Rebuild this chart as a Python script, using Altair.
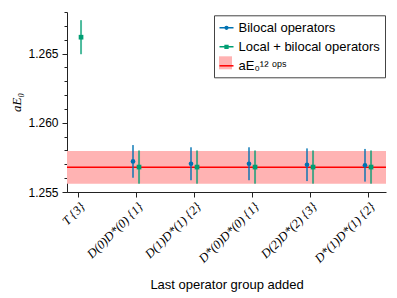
import json
import altair as alt
import pandas as pd

# ---------------- data ----------------
categories = ["T {3}", "D(0)D*(0) {1}", "D(1)D*(1) {2}",
              "D*(0)D*(0) {1}", "D(2)D*(2) {3}", "D*(1)D*(1) {2}"]
series_names = ["Bilocal operators", "Local + bilocal operators", "aE₀¹² ᵒᵖˢ"]

bilocal_idx = [1, 2, 3, 4, 5]
bilocal_val = [1.25721, 1.25704, 1.25704, 1.25697, 1.25693]
bilocal_err = [0.00118, 0.00119, 0.00119, 0.00118, 0.00118]

local_idx = [0, 1, 2, 3, 4, 5]
local_val = [1.26618, 1.25680, 1.25680, 1.25680, 1.25680, 1.25680]
local_err = [0.00123, 0.00120, 0.00120, 0.00120, 0.00120, 0.00120]

band_mid = [1.25678]
band_err = [0.00118]

y_major = [1.255, 1.260, 1.265]
y_minor = [round(1.255 + 0.001 * k, 3) for k in range(14)]

BLUE = "#0072B2"
GREEN = "#009E73"
RED = "#ff0000"
PINK = "#ffb3b3"

rows = []
for i, v, e in zip(bilocal_idx, bilocal_val, bilocal_err):
    rows.append({"series": series_names[0], "idx": i, "val": v, "err": e})
for i, v, e in zip(local_idx, local_val, local_err):
    rows.append({"series": series_names[1], "idx": i, "val": v, "err": e})
df = pd.DataFrame(rows)
band_df = pd.DataFrame({"mid": band_mid, "err": band_err, "band": ["band"]})

x_scale = alt.Scale(domain=[-0.19, 5.31], nice=False, zero=False)
y_scale = alt.Scale(domain=[1.255, 1.268], nice=False, zero=False)
# data-mark colours (two series only, so it stays apart from the legend scales)
color_scale = alt.Scale(domain=series_names[:2], range=[BLUE, GREEN])

x_axis = alt.Axis(
    values=list(range(len(categories))),
    labelExpr=f"{json.dumps(categories)}[round(datum.value)]",
    labelAngle=315, labelAlign="right", labelBaseline="top",
    labelFont="Liberation Serif", labelFontStyle="italic", labelFontSize=12.5,
    labelColor="#000", labelPadding=3, labelOverlap=False,
    tickSize=5, tickColor="#222", domainColor="#222", grid=False,
    title="Last operator group added", titleFont="Liberation Sans",
    titleFontSize=13, titleFontWeight="normal", titleColor="#000",
    titlePadding=14,
)
y_axis_major = alt.Axis(
    values=y_major, format=".3f", orient="left",
    labelFont="Liberation Sans", labelColor="#000", labelFontSize=12,
    labelPadding=4, labelOverlap=False,
    tickSize=5, tickColor="#222", domainColor="#222", grid=False,
    title="aE₀", titleFont="Liberation Serif", titleFontStyle="italic",
    titleFontSize=13, titleFontWeight="normal", titleColor="#000",
    titlePadding=4,
)
y_axis_minor = alt.Axis(
    values=y_minor, orient="left", labels=False, domain=False, title=None,
    tickSize=3, tickColor="#222", grid=False,
)

# legend symbol paths (line + marker, line)
dot = ("M-1,0H1M-0.2,0A0.2,0.2,0,1,1,0.2,0A0.2,0.2,0,1,1,-0.2,0Z"
       "M-0.08,0A0.08,0.08,0,1,1,0.08,0A0.08,0.08,0,1,1,-0.08,0Z")
sq = "M-1,0H1M-0.2,-0.2H0.2V0.2H-0.2ZM-0.07,-0.07H0.07V0.07H-0.07Z"
ln = "M-1,0H1"

LEG_X, LEG_Y = 147, 3.3

legend_main = alt.Legend(
    title=None, orient="none", legendX=LEG_X, legendY=LEG_Y, zindex=1,
    fillColor="white", strokeColor="#444",
    padding=4.5, rowPadding=4, symbolSize=196, labelOffset=4,
    labelFont="Liberation Sans", labelFontSize=13, labelColor="#000",
    symbolStrokeWidth=1.5, symbolOpacity=1, symbolFillColor="transparent",
)
legend_band = alt.Legend(
    title=None, orient="none", legendX=LEG_X + 5, legendY=LEG_Y + 41, zindex=2,
    padding=0, symbolType="square", symbolSize=169, symbolOpacity=0.3,
    symbolStrokeWidth=0, symbolStrokeColor="transparent",
    labelExpr="''", labelFontSize=1, labelOffset=0,
)

band = alt.Chart(band_df).transform_calculate(
    lo="datum.mid - datum.err", hi="datum.mid + datum.err"
).mark_rect(color=PINK).encode(
    y=alt.Y("lo:Q", scale=y_scale, axis=y_axis_major),
    y2="hi:Q",
    x=alt.value(0), x2=alt.value("width"),
)
line = alt.Chart(band_df).mark_rule(color=RED, strokeWidth=1.5).encode(
    y=alt.Y("mid:Q", scale=y_scale, axis=y_axis_minor),
)

base = alt.Chart(df).transform_calculate(
    xpos=f"datum.idx + (datum.series === {json.dumps(series_names[0])} ? -0.052 : 0.052)",
    lo="datum.val - datum.err", hi="datum.val + datum.err",
)
bars = base.mark_rule(strokeWidth=2, opacity=0.7).encode(
    x=alt.X("xpos:Q", scale=x_scale, axis=x_axis),
    y=alt.Y("lo:Q", scale=y_scale, axis=None),
    y2="hi:Q",
    color=alt.Color("series:N", scale=color_scale, legend=None),
)
pts_bi = base.transform_filter(
    f"datum.series === {json.dumps(series_names[0])}"
).mark_point(filled=True, size=22, opacity=1, shape="circle").encode(
    x=alt.X("xpos:Q", scale=x_scale),
    y=alt.Y("val:Q", scale=y_scale, axis=None),
    color=alt.Color("series:N", scale=color_scale, legend=None),
)
pts_lo = base.transform_filter(
    f"datum.series === {json.dumps(series_names[1])}"
).mark_point(filled=True, size=22, opacity=1, shape="square").encode(
    x=alt.X("xpos:Q", scale=x_scale),
    y=alt.Y("val:Q", scale=y_scale, axis=None),
    color=alt.Color("series:N", scale=color_scale, legend=None),
)

# legend-only layers (no rows drawn)
leg_main = alt.Chart(df).transform_filter("false").mark_point(
    filled=False, strokeWidth=1.5
).encode(
    stroke=alt.Stroke("series:N", scale=alt.Scale(domain=series_names, range=[BLUE, GREEN, RED]),
                      legend=legend_main),
    shape=alt.Shape("series:N",
                    scale=alt.Scale(domain=series_names, range=[dot, sq, ln]),
                    legend=legend_main),
)
leg_band = alt.Chart(band_df).transform_filter("false").mark_point(
    filled=True
).encode(
    fill=alt.Fill("band:N", scale=alt.Scale(domain=["band"], range=[RED]),
                  legend=legend_band),
)

chart = alt.layer(band, line, bars, pts_bi, pts_lo, leg_main, leg_band).resolve_scale(
    y="independent"
).properties(
    width=319, height=180,
    padding={"left": 2, "top": 3, "right": 0, "bottom": 0},
    background="white",
).configure_view(stroke=None).configure_legend(strokeWidth=1, cornerRadius=0)

chart.save("out.html", embed_options={"renderer": "svg", "actions": False})
